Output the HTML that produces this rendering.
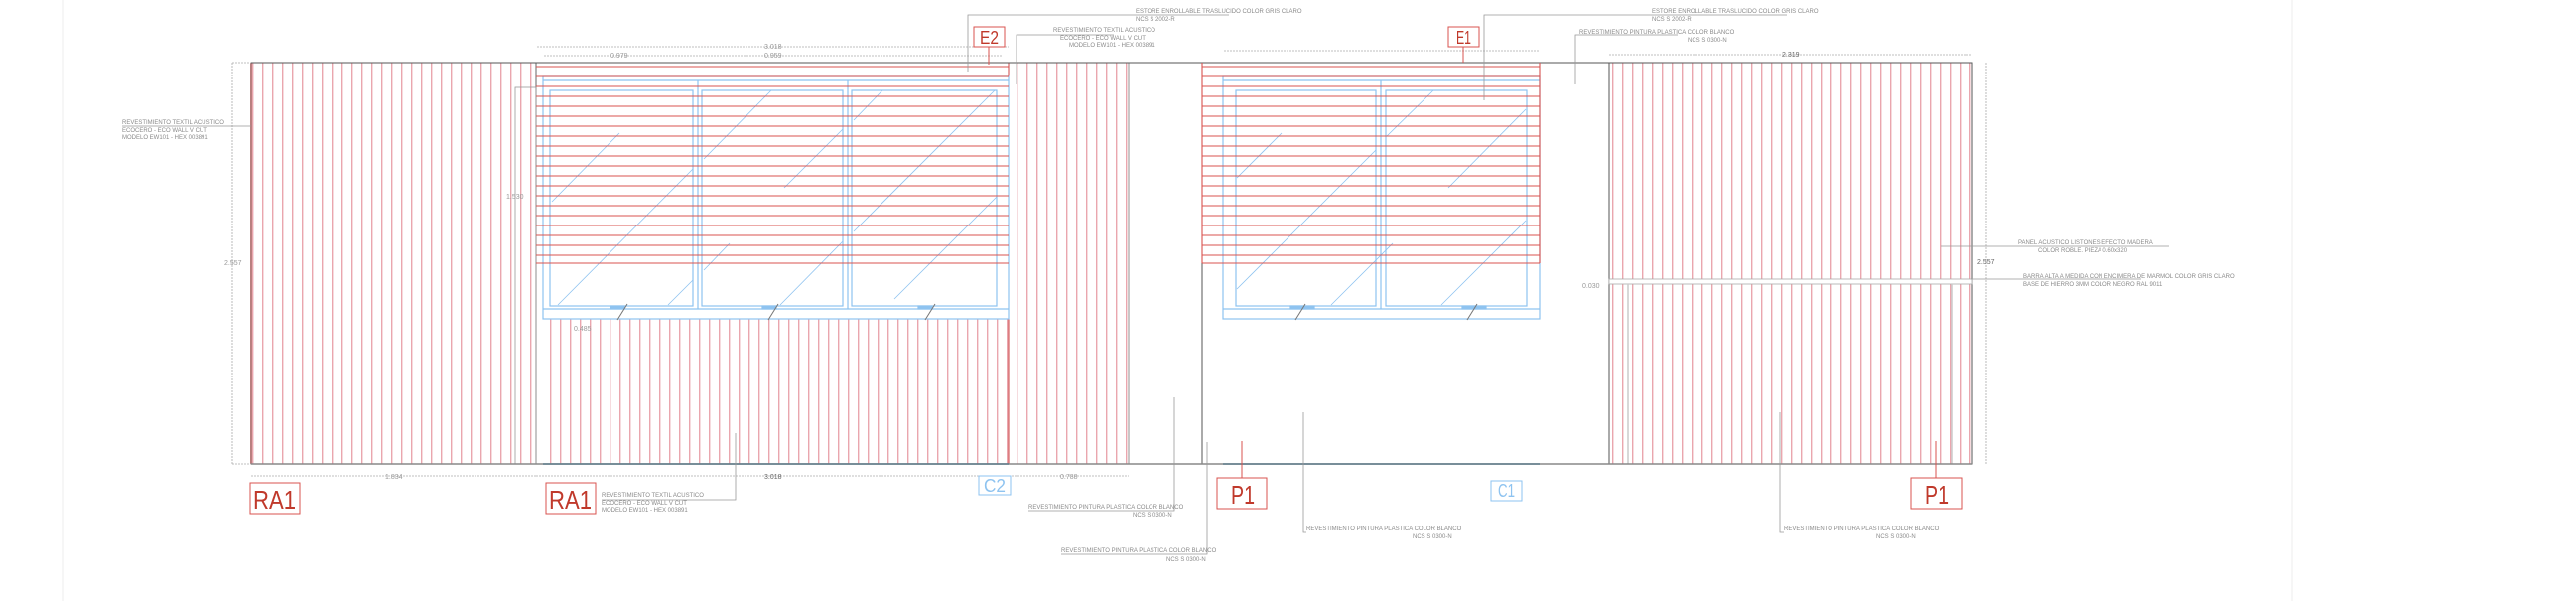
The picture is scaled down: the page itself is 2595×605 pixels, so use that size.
<!DOCTYPE html>
<html><head><meta charset="utf-8"><style>
html,body{margin:0;padding:0;background:#fff;}
svg{display:block;font-family:"Liberation Sans",sans-serif;}
.t{font-size:6px;fill:#8a8a8a;}
.d{font-size:7px;fill:#999;}
.lr{fill:none;stroke:#d9534f;stroke-width:1.2;}
.lb{fill:none;stroke:#8ec3f0;stroke-width:1.2;}
.g{stroke:#999;stroke-width:0.8;fill:none;}
.gd{stroke:#aaa;stroke-width:0.8;fill:none;stroke-dasharray:2 1;}
.k{stroke:#555;stroke-width:1;fill:none;}
</style></head><body>
<svg width="2595" height="605" viewBox="0 0 2595 605" xmlns="http://www.w3.org/2000/svg">
<defs>
<pattern id="st" x="0" y="0" width="10" height="10" patternUnits="userSpaceOnUse">
<rect x="4" y="0" width="1.4" height="10" fill="#eaa6ae"/>
</pattern>
</defs>
<line x1="63" y1="0" x2="63" y2="605" stroke="#eee"/>
<line x1="2309" y1="0" x2="2309" y2="605" stroke="#eee"/>

<rect x="253" y="63" width="287" height="404" fill="url(#st)"/>
<line x1="253" y1="63" x2="253" y2="467" stroke="#8b2b2b" stroke-width="1.2"/>
<rect x="547" y="321" width="469" height="146" fill="url(#st)"/>
<rect x="1016" y="63" width="121" height="404" fill="url(#st)"/>
<line x1="540" y1="63" x2="540" y2="467" stroke="#666" stroke-width="1"/>
<rect x="519" y="88" width="21" height="379" class="g"/>
<line x1="1137" y1="63" x2="1137" y2="467" class="k"/>
<line x1="1016" y1="63" x2="1016" y2="467" stroke="#c44" stroke-width="1"/>
<rect x="1137" y="63" width="74" height="404" fill="none" stroke="#bbb" stroke-width="0.6"/>
<line x1="1211" y1="63" x2="1211" y2="467" class="k"/>
<rect x="1621" y="63" width="366" height="404" fill="url(#st)"/>
<rect x="1621" y="63" width="366" height="404" class="k"/>
<rect x="1621" y="281" width="366" height="5" fill="#fff" stroke="#aaa" stroke-width="0.8"/>
<line x1="1640" y1="286" x2="1640" y2="467" stroke="#ccc" stroke-width="1.5"/>
<line x1="1966" y1="286" x2="1966" y2="467" stroke="#ccc" stroke-width="1.5"/>

<line x1="253" y1="63" x2="1987" y2="63" stroke="#555" stroke-width="1"/>
<line x1="253" y1="467" x2="1987" y2="467" stroke="#888" stroke-width="1.4"/>
<line x1="547" y1="467" x2="1016" y2="467" stroke="#607d8b" stroke-width="1.6"/>
<line x1="1232" y1="467" x2="1551" y2="467" stroke="#607d8b" stroke-width="1.6"/>

<g class="lb">
<rect x="547" y="77" width="469" height="244"/>
<line x1="547" y1="81" x2="1016" y2="81"/>
<line x1="547" y1="311" x2="1016" y2="311"/>
<rect x="554" y="91" width="144" height="217"/>
<rect x="707" y="91" width="142" height="217"/>
<rect x="858" y="91" width="146" height="217"/>
<line x1="703" y1="81" x2="703" y2="311"/>
<line x1="854" y1="81" x2="854" y2="311"/>
<line x1="556" y1="203" x2="624" y2="134" stroke-width="0.8"/>
<line x1="562" y1="307" x2="698" y2="170" stroke-width="0.8"/>
<line x1="673" y1="307" x2="698" y2="282" stroke-width="0.8"/>
<line x1="709" y1="160" x2="777" y2="91" stroke-width="0.8"/>
<line x1="790" y1="189" x2="849" y2="130" stroke-width="0.8"/>
<line x1="709" y1="272" x2="735" y2="245" stroke-width="0.8"/>
<line x1="786" y1="307" x2="849" y2="243" stroke-width="0.8"/>
<line x1="860" y1="121" x2="889" y2="91" stroke-width="0.8"/>
<line x1="860" y1="233" x2="1002" y2="91" stroke-width="0.8"/>
<line x1="901" y1="301" x2="1004" y2="198" stroke-width="0.8"/>
<rect x="615" y="308" width="14" height="3" fill="#8ec3f0"/>
<rect x="768" y="308" width="14" height="3" fill="#8ec3f0"/>
<rect x="925" y="308" width="14" height="3" fill="#8ec3f0"/>
</g>
<g class="lb">
<rect x="1232" y="77" width="319" height="244"/>
<line x1="1232" y1="81" x2="1551" y2="81"/>
<line x1="1232" y1="311" x2="1551" y2="311"/>
<rect x="1245" y="91" width="141" height="217"/>
<rect x="1396" y="91" width="142" height="217"/>
<line x1="1391" y1="81" x2="1391" y2="311"/>
<line x1="1246" y1="179" x2="1291" y2="134" stroke-width="0.8"/>
<line x1="1246" y1="291" x2="1386" y2="151" stroke-width="0.8"/>
<line x1="1341" y1="307" x2="1403" y2="245" stroke-width="0.8"/>
<line x1="1397" y1="137" x2="1444" y2="91" stroke-width="0.8"/>
<line x1="1459" y1="189" x2="1537" y2="110" stroke-width="0.8"/>
<line x1="1452" y1="307" x2="1537" y2="222" stroke-width="0.8"/>
<rect x="1300" y="308" width="24" height="3" fill="#8ec3f0"/>
<rect x="1473" y="308" width="24" height="3" fill="#8ec3f0"/>
</g>
<g stroke="#777" stroke-width="1">
<line x1="622" y1="322" x2="632" y2="306"/><line x1="774" y1="322" x2="784" y2="306"/><line x1="932" y1="322" x2="942" y2="306"/>
<line x1="1305" y1="322" x2="1315" y2="306"/><line x1="1478" y1="322" x2="1488" y2="306"/>
</g>

<g stroke="#d9534f" stroke-width="1.1">
<line x1="540" y1="67" x2="1016" y2="67"/><line x1="540" y1="77" x2="1016" y2="77"/><line x1="540" y1="87" x2="1016" y2="87"/><line x1="540" y1="97" x2="1016" y2="97"/><line x1="540" y1="107" x2="1016" y2="107"/><line x1="540" y1="117" x2="1016" y2="117"/><line x1="540" y1="127" x2="1016" y2="127"/><line x1="540" y1="137" x2="1016" y2="137"/><line x1="540" y1="147" x2="1016" y2="147"/><line x1="540" y1="157" x2="1016" y2="157"/><line x1="540" y1="167" x2="1016" y2="167"/><line x1="540" y1="177" x2="1016" y2="177"/><line x1="540" y1="187" x2="1016" y2="187"/><line x1="540" y1="197" x2="1016" y2="197"/><line x1="540" y1="207" x2="1016" y2="207"/><line x1="540" y1="217" x2="1016" y2="217"/><line x1="540" y1="227" x2="1016" y2="227"/><line x1="540" y1="237" x2="1016" y2="237"/><line x1="540" y1="247" x2="1016" y2="247"/><line x1="540" y1="257" x2="1016" y2="257"/><line x1="540" y1="265" x2="1016" y2="265"/>
<line x1="1211" y1="67" x2="1551" y2="67"/><line x1="1211" y1="77" x2="1551" y2="77"/><line x1="1211" y1="87" x2="1551" y2="87"/><line x1="1211" y1="97" x2="1551" y2="97"/><line x1="1211" y1="107" x2="1551" y2="107"/><line x1="1211" y1="117" x2="1551" y2="117"/><line x1="1211" y1="127" x2="1551" y2="127"/><line x1="1211" y1="137" x2="1551" y2="137"/><line x1="1211" y1="147" x2="1551" y2="147"/><line x1="1211" y1="157" x2="1551" y2="157"/><line x1="1211" y1="167" x2="1551" y2="167"/><line x1="1211" y1="177" x2="1551" y2="177"/><line x1="1211" y1="187" x2="1551" y2="187"/><line x1="1211" y1="197" x2="1551" y2="197"/><line x1="1211" y1="207" x2="1551" y2="207"/><line x1="1211" y1="217" x2="1551" y2="217"/><line x1="1211" y1="227" x2="1551" y2="227"/><line x1="1211" y1="237" x2="1551" y2="237"/><line x1="1211" y1="247" x2="1551" y2="247"/><line x1="1211" y1="257" x2="1551" y2="257"/><line x1="1211" y1="265" x2="1551" y2="265"/>
<line x1="1211" y1="63" x2="1211" y2="265"/><line x1="1551" y1="63" x2="1551" y2="265"/>
</g>

<g class="gd">
<line x1="234" y1="63" x2="234" y2="467"/><line x1="234" y1="63" x2="253" y2="63"/><line x1="234" y1="467" x2="253" y2="467"/>
<line x1="253" y1="479" x2="540" y2="479"/><line x1="540" y1="479" x2="1016" y2="479"/><line x1="1016" y1="479" x2="1137" y2="479"/>
<line x1="541" y1="47" x2="1016" y2="47"/><line x1="548" y1="56" x2="1010" y2="56"/>
<line x1="1621" y1="55" x2="1987" y2="55"/>
<line x1="1233" y1="51" x2="1551" y2="51"/>
<line x1="2001" y1="63" x2="2001" y2="467"/>
</g>
<g class="d">
<text x="226" y="267">2.557</text>
<text x="388" y="482">1.834</text>
<text x="770" y="482" fill="#666">3.018</text>
<text x="1068" y="482">0.788</text>
<text x="770" y="49">3.018</text>
<text x="615" y="58">0.979</text>
<text x="770" y="58">0.959</text>
<text x="510" y="200">1.530</text>
<text x="1795" y="57" fill="#666">2.319</text>
<text x="1992" y="266" fill="#666">2.557</text>
<text x="1594" y="290">0.030</text>
<text x="578" y="333">0.485</text>
</g>

<g font-size="26" fill="#c0392b">
<rect x="252" y="486" width="50" height="31" fill="none" stroke="#d9534f"/><text x="255" y="512" textLength="43" lengthAdjust="spacingAndGlyphs">RA1</text>
<rect x="550" y="486" width="50" height="31" fill="none" stroke="#d9534f"/><text x="553" y="512" textLength="43" lengthAdjust="spacingAndGlyphs">RA1</text>
<rect x="1226" y="481" width="50" height="31" fill="none" stroke="#d9534f"/><text x="1240" y="507" textLength="24" lengthAdjust="spacingAndGlyphs">P1</text>
<rect x="1925" y="481" width="51" height="31" fill="none" stroke="#d9534f"/><text x="1939" y="507" textLength="24" lengthAdjust="spacingAndGlyphs">P1</text>
</g>
<g font-size="18" fill="#c0392b">
<rect x="981" y="27" width="31" height="20" fill="none" stroke="#d9534f"/><text x="987" y="44" textLength="19" lengthAdjust="spacingAndGlyphs">E2</text>
<rect x="1459" y="27" width="31" height="20" fill="none" stroke="#d9534f"/><text x="1467" y="44" textLength="15" lengthAdjust="spacingAndGlyphs">E1</text>
</g>
<g font-size="18" fill="#8ec3f0">
<rect x="986" y="479" width="32" height="19" fill="none" stroke="#8ec3f0"/><text x="991" y="495" textLength="22" lengthAdjust="spacingAndGlyphs">C2</text>
<rect x="1502" y="484" width="31" height="20" fill="none" stroke="#8ec3f0"/><text x="1509" y="500" textLength="17" lengthAdjust="spacingAndGlyphs">C1</text>
</g>
<g stroke="#d9534f" stroke-width="1">
<line x1="996" y1="47" x2="996" y2="65"/><line x1="1474" y1="47" x2="1474" y2="63"/>
<line x1="1251" y1="444" x2="1251" y2="481"/><line x1="1950" y1="444" x2="1950" y2="481"/>
</g>

<g class="g">
<polyline points="1238,15 975,15 975,72"/>
<polyline points="1800,15 1495,15 1495,101"/>
<polyline points="1690,35 1587,35 1587,85"/>
<polyline points="1122,35 1024,35 1024,85"/>
<polyline points="123,127 253,127"/>
<polyline points="1036,514 1183,514 1183,400"/>
<polyline points="1069,558 1216,558 1216,445"/>
<polyline points="1316,536 1313,536 1313,415"/>
<polyline points="1797,536 1793,536 1793,415"/>
<polyline points="606,503 741,503 741,436"/>
<polyline points="1955,248 2185,248"/>
<polyline points="1986,281 2157,281"/>
</g>
<g class="t">
<text x="1144" y="13">ESTORE ENROLLABLE TRASLUCIDO COLOR GRIS CLARO</text>
<text x="1144" y="21">NCS S 2002-R</text>
<text x="1664" y="13">ESTORE ENROLLABLE TRASLUCIDO COLOR GRIS CLARO</text>
<text x="1664" y="21">NCS S 2002-R</text>
<text x="1591" y="34">REVESTIMIENTO PINTURA PLASTICA COLOR BLANCO</text>
<text x="1700" y="42">NCS S 0300-N</text>
<text x="1061" y="32">REVESTIMIENTO TEXTIL ACUSTICO</text>
<text x="1068" y="40">ECOCERO - ECO WALL V CUT</text>
<text x="1077" y="47">MODELO EW101 - HEX 003891</text>
<text x="123" y="125">REVESTIMIENTO TEXTIL ACUSTICO</text>
<text x="123" y="133">ECOCERO - ECO WALL V CUT</text>
<text x="123" y="140">MODELO EW101 - HEX 003891</text>
<text x="606" y="500">REVESTIMIENTO TEXTIL ACUSTICO</text>
<text x="606" y="508">ECOCERO - ECO WALL V CUT</text>
<text x="606" y="515">MODELO EW101 - HEX 003891</text>
<text x="1036" y="512">REVESTIMIENTO PINTURA PLASTICA COLOR BLANCO</text>
<text x="1141" y="520">NCS S 0300-N</text>
<text x="1069" y="556">REVESTIMIENTO PINTURA PLASTICA COLOR BLANCO</text>
<text x="1175" y="565">NCS S 0300-N</text>
<text x="1316" y="534">REVESTIMIENTO PINTURA PLASTICA COLOR BLANCO</text>
<text x="1423" y="542">NCS S 0300-N</text>
<text x="1797" y="534">REVESTIMIENTO PINTURA PLASTICA COLOR BLANCO</text>
<text x="1890" y="542">NCS S 0300-N</text>
<text x="2033" y="246">PANEL ACUSTICO LISTONES EFECTO MADERA</text>
<text x="2053" y="254">COLOR ROBLE. PIEZA 0.60x320</text>
<text x="2038" y="280">BARRA ALTA A MEDIDA CON ENCIMERA DE MARMOL COLOR GRIS CLARO</text>
<text x="2038" y="288">BASE DE HIERRO 3MM COLOR NEGRO RAL 9011</text>
</g>
</svg>
</body></html>
